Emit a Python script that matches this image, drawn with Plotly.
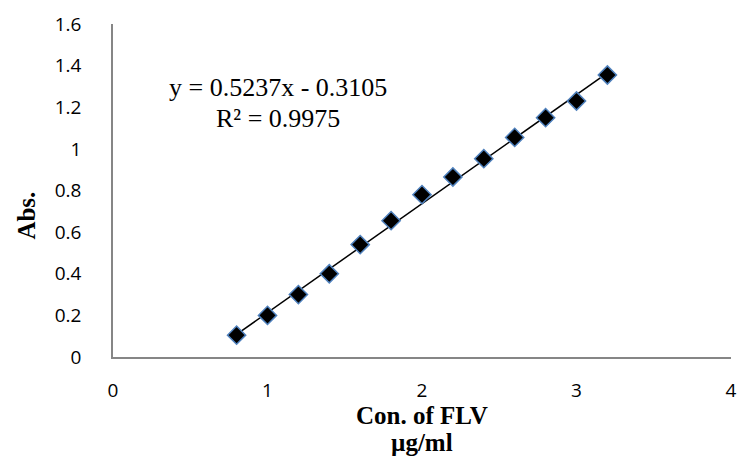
import plotly.graph_objects as go

conc = [0.8, 1.0, 1.2, 1.4, 1.6, 1.8, 2.0, 2.2, 2.4, 2.6, 2.8, 3.0, 3.2]
absorb = [0.105, 0.20, 0.30, 0.40, 0.54, 0.655, 0.78, 0.865, 0.953, 1.055, 1.15, 1.23, 1.355]
slope = 0.5237
intercept = -0.3105
eq_line1 = "y = 0.5237x - 0.3105"
eq_line2 = "R² = 0.9975"
x_title_1 = "Con. of FLV"
x_title_2 = "µg/ml"
y_title = "Abs."
x_ticks = [0, 1, 2, 3, 4]
y_ticks = [0, 0.2, 0.4, 0.6, 0.8, 1, 1.2, 1.4, 1.6]

trend_x = [min(conc), max(conc)]
trend_y = [slope * v + intercept for v in trend_x]

fig = go.Figure()
fig.add_trace(go.Scatter(x=trend_x, y=trend_y, mode="lines",
                         line=dict(color="black", width=1.5), showlegend=False,
                         hoverinfo="skip"))
fig.add_trace(go.Scatter(x=conc, y=absorb, mode="markers",
                         marker=dict(symbol="diamond", size=14, color="black",
                                     line=dict(color="#4F81BD", width=1.5)),
                         showlegend=False))

eq_font = dict(family="Liberation Serif", size=26, color="black")
fig.add_annotation(x=1.07, y=1.293, xref="x", yref="y", text=eq_line1, showarrow=False,
                   font=eq_font, xanchor="center", yanchor="middle", borderpad=0)
fig.add_annotation(x=1.07, y=1.144, xref="x", yref="y", text=eq_line2, showarrow=False,
                   font=eq_font, xanchor="center", yanchor="middle", borderpad=0)

title_font = dict(family="Liberation Serif", size=25, color="black")
fig.add_annotation(x=0.4995, y=-0.176, xref="paper", yref="paper", text=f"<b>{x_title_1}</b>",
                   showarrow=False, font=title_font, xanchor="center", yanchor="middle",
                   borderpad=0)
fig.add_annotation(x=0.4995, y=-0.258, xref="paper", yref="paper", text=f"<b>{x_title_2}</b>",
                   showarrow=False, font=title_font, xanchor="center", yanchor="middle",
                   borderpad=0)
fig.add_annotation(x=-0.14, y=0.426, xref="paper", yref="paper", text=f"<b>{y_title}</b>",
                   showarrow=False, font=title_font, textangle=-90,
                   xanchor="center", yanchor="middle", borderpad=0)

tick_font = dict(family="Open Sans", size=19, color="black")
fig.update_layout(
    width=741, height=456,
    margin=dict(l=113, r=4, t=24, b=99),
    plot_bgcolor="white", paper_bgcolor="white",
    xaxis=dict(range=[0, 4], tickvals=x_ticks, ticktext=[str(v) for v in x_ticks],
               showgrid=False, zeroline=False, showline=True,
               linecolor="#868686", linewidth=1.5, ticks="",
               ticklabelstandoff=15, ticklabeloverflow="allow",
               tickfont=tick_font),
    yaxis=dict(range=[0, 1.6], tickvals=y_ticks, ticktext=[f"{v:g}" for v in y_ticks],
               showgrid=False, zeroline=False, showline=True,
               linecolor="#868686", linewidth=1.5, ticks="",
               ticklabelstandoff=26, ticklabeloverflow="allow",
               tickfont=tick_font),
)

fig.write_html("out.html")
